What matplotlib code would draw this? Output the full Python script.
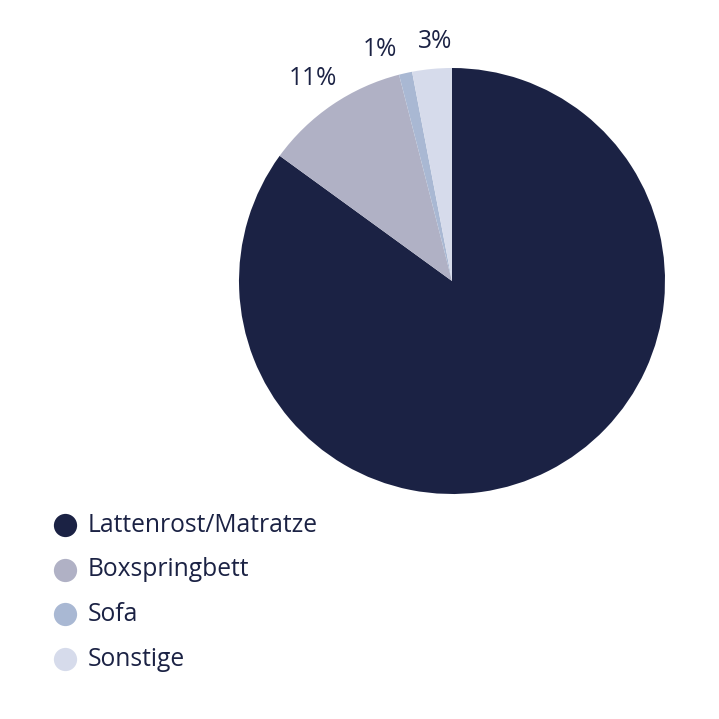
import numpy as np
import matplotlib.pyplot as plt

# Schlafplatz share, in percent
labels = ['Lattenrost/Matratze', 'Boxspringbett', 'Sofa', 'Sonstige']
shares = [85, 11, 1, 3]
colors = ['#1b2244', '#b0b1c5', '#a9b8d3', '#d6dbeb']
text_color = '#1b2244'

plt.rcParams['font.family'] = ['Open Sans', 'DejaVu Sans']

fig = plt.figure(figsize=(7.19, 7.19), dpi=100)
ax = fig.add_axes([0, 0, 1, 1])

cx, cy, r = 452, 438, 213
wedges, _ = ax.pie(shares, colors=colors, startangle=90, counterclock=False,
                   center=(cx, cy), radius=r, frame=True,
                   wedgeprops=dict(linewidth=0))
ax.set_xlim(0, 719)
ax.set_ylim(0, 719)
ax.set_aspect('equal')
ax.axis('off')

# percentage labels outside the small slices (big slice label is not shown)
nudge = {1: (0, -2), 2: (-18, -10), 3: (6, -6)}
for i, w in enumerate(wedges):
    if i == 0:
        continue
    mid = np.deg2rad((w.theta1 + w.theta2) / 2)
    d = r * 1.16
    dx, dy = nudge[i]
    ax.text(cx + d * np.cos(mid) + dx, cy + d * np.sin(mid) + dy,
            f'{shares[i]}%', ha='center', va='center',
            fontsize=17.7, color=text_color)

# legend
ly0, lstep = 194, 44.7
for i, (lab, col) in enumerate(zip(labels, colors)):
    y = ly0 - i * lstep
    ax.scatter([65], [y], s=280, color=col, linewidths=0)
    ax.text(88, y, lab, ha='left', va='center', fontsize=17.7, color=text_color)

fig.savefig('out.png', dpi=100)
